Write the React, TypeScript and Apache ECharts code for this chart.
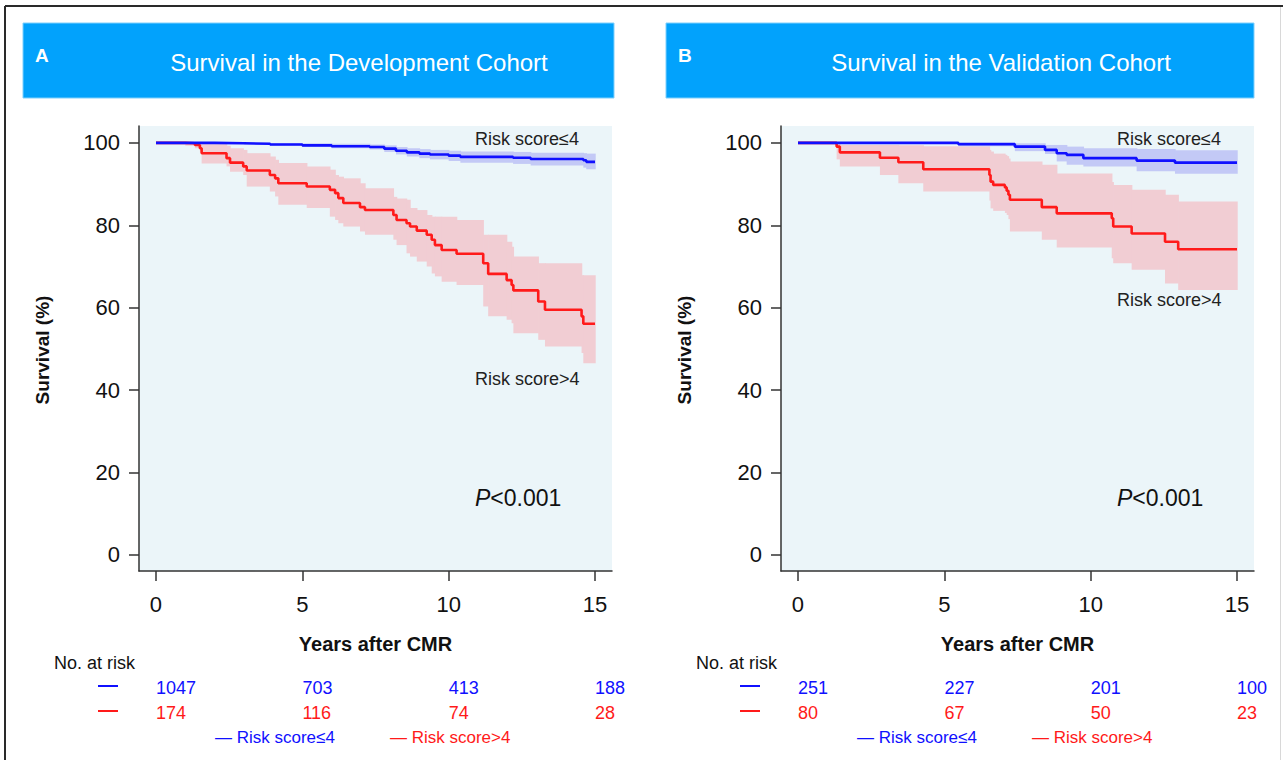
import React, { useEffect, useRef } from "react";
import * as echarts from "echarts";

// ---------- Data ----------
const yearTicks = [0, 5, 10, 15];
const survivalTicks = [0, 20, 40, 60, 80, 100];

// Development cohort, risk score <= 4
const devLowTime = [0, 2.0, 3.0, 3.9, 5.0, 6.0, 7.3, 7.8, 8.2, 8.57, 9.0, 9.36, 10.0, 10.4, 12.2, 12.8, 14.6, 14.7, 15];
const devLowSurv = [100, 99.9, 99.8, 99.6, 99.4, 99.2, 99.0, 98.6, 98.1, 97.7, 97.4, 97.2, 96.9, 96.6, 96.4, 96.1, 95.8, 95.4, 95.4];
const devLowLo = [100, 99.8, 99.6, 99.3, 99.0, 98.7, 98.4, 97.8, 97.2, 96.7, 96.3, 96.0, 95.6, 95.2, 94.9, 94.5, 94.0, 93.6, 93.6];
const devLowHi = [100, 100, 100, 100, 99.9, 99.8, 99.6, 99.4, 99.0, 98.7, 98.5, 98.3, 98.1, 97.9, 97.8, 97.6, 97.5, 97.4, 97.4];

// Development cohort, risk score > 4
const devHighTime = [0, 1.0, 1.33, 1.5, 1.56, 2.41, 2.53, 2.98, 3.1, 3.89, 4.07, 4.18, 5.15, 5.94, 6.12, 6.23, 6.4, 6.97, 7.14, 8.11, 8.22, 8.56, 8.68, 8.91, 9.25, 9.42, 9.53, 9.76, 10.27, 11.18, 11.35, 11.98, 12.15, 12.21, 13.06, 13.29, 14.54, 14.6, 15.0];
const devHighSurv = [100, 99.9, 99.5, 98.7, 97.5, 96.3, 95.2, 94.3, 93.3, 92.2, 91.4, 90.2, 89.4, 88.6, 87.8, 86.6, 85.4, 84.4, 83.7, 82.5, 81.3, 80.5, 79.7, 78.7, 77.7, 76.5, 75.2, 74.0, 73.1, 70.8, 68.2, 66.7, 65.5, 64.2, 61.5, 59.5, 57.9, 56.1, 56.1];
const devHighLo = [100, 99.3, 98.7, 97.9, 95.0, 94.3, 93.0, 92.2, 89.4, 88.2, 87.0, 85.0, 84.2, 82.1, 81.3, 80.5, 79.7, 78.5, 77.7, 76.5, 75.2, 73.2, 72.4, 71.2, 70.0, 68.3, 67.6, 66.3, 65.5, 60.3, 57.9, 57.1, 56.2, 53.8, 52.2, 50.6, 49.0, 46.5, 46.5];
const devHighHi = [100, 100, 100, 100, 99.9, 99.3, 98.7, 98.3, 97.5, 96.7, 95.9, 95.1, 94.3, 93.5, 92.2, 91.8, 91.4, 90.2, 89.0, 86.9, 86.5, 86.2, 84.2, 83.7, 82.5, 82.1, 82.1, 82.1, 81.3, 77.7, 77.7, 76.0, 74.8, 72.4, 70.8, 70.8, 67.9, 67.9, 67.9];

// Validation cohort, risk score <= 4
const valLowTime = [0, 5.48, 7.41, 8.44, 8.84, 9.18, 9.75, 11.57, 12.88, 15];
const valLowSurv = [100, 99.7, 99.1, 98.3, 97.5, 97.1, 96.3, 95.7, 95.2, 95.2];
const valLowLo = [100, 99.2, 98.0, 97.3, 95.5, 94.7, 94.3, 93.1, 92.5, 92.5];
const valLowHi = [100, 100, 99.9, 99.5, 99.5, 99.1, 98.7, 98.5, 98.2, 98.2];

// Validation cohort, risk score > 4
const valHighTime = [0, 1.32, 1.43, 2.8, 3.43, 4.28, 6.54, 6.58, 6.67, 7.07, 7.13, 7.19, 7.24, 8.33, 8.84, 10.72, 10.77, 11.4, 12.54, 12.99, 15];
const valHighSurv = [100, 99.1, 97.7, 96.4, 95.3, 93.6, 92.2, 90.6, 89.8, 89.2, 88.4, 87.4, 86.2, 84.4, 82.9, 81.7, 79.7, 78.0, 76.0, 74.2, 74.2];
const valHighLo = [100, 96.0, 94.3, 92.2, 90.2, 88.2, 86.0, 84.1, 83.5, 83.0, 82.5, 81.5, 78.5, 76.5, 74.6, 72.0, 70.8, 69.2, 65.9, 64.3, 64.3];
const valHighHi = [100, 100, 99.5, 99.5, 99.4, 99.2, 98.3, 97.9, 97.4, 97.1, 96.8, 96.2, 95.5, 94.7, 92.6, 90.5, 89.8, 88.6, 87.4, 85.8, 85.8];

// Numbers at risk
const atRiskYears = [0, 5, 10, 15];
const devAtRiskLow = [1047, 703, 413, 188];
const devAtRiskHigh = [174, 116, 74, 28];
const valAtRiskLow = [251, 227, 201, 100];
const valAtRiskHigh = [80, 67, 50, 23];

// ---------- Styling ----------
const FONT = "'Liberation Sans', Arial, Helvetica, sans-serif";
const BLUE = "#1010ff";
const RED = "#ff1a1a";
const BLUE_BAND = "#c3c9f6";
const RED_BAND = "#f1cdd3";
const PLOT_BG = "#ebf5f9";
const HEADER = "#02a2fc";
const DARK = "#111111";

const X_MIN = -0.58;
const X_MAX = 15.58;
const Y_MIN = -3.9;
const Y_MAX = 104.1;

const panels = [
  { left: 139, letter: "A", title: "Survival in the Development Cohort", headerX: 23, headerW: 591,
    low: [devLowTime, devLowSurv, devLowLo, devLowHi], high: [devHighTime, devHighSurv, devHighLo, devHighHi],
    riskLow: devAtRiskLow, riskHigh: devAtRiskHigh, lowLabelY: 139, highLabelY: 379 },
  { left: 781, letter: "B", title: "Survival in the Validation Cohort", headerX: 666, headerW: 588,
    low: [valLowTime, valLowSurv, valLowLo, valLowHi], high: [valHighTime, valHighSurv, valHighLo, valHighHi],
    riskLow: valAtRiskLow, riskHigh: valAtRiskHigh, lowLabelY: 139, highLabelY: 300 },
];

const PLOT_W = 473;
const PLOT_TOP = 126;
const PLOT_H = 445;

function stepData(t: number[], s: number[]) {
  return t.map((x, i) => [x, s[i]]);
}
function bandData(t: number[], lo: number[], hi: number[]) {
  return t.slice(0, -1).map((x, i) => [x, t[i + 1], lo[i], hi[i]]);
}
function bandSeries(idx: number, data: number[][], color: string) {
  return {
    type: "custom",
    xAxisIndex: idx,
    yAxisIndex: idx,
    data,
    encode: { x: [0, 1], y: [2, 3] },
    silent: true,
    renderItem: (params: any, api: any) => {
      const p0 = api.coord([api.value(0), api.value(3)]);
      const p1 = api.coord([api.value(1), api.value(2)]);
      return {
        type: "rect",
        shape: { x: p0[0], y: p0[1], width: p1[0] - p0[0] + 0.7, height: p1[1] - p0[1] },
        style: { fill: color },
      };
    },
  };
}

function buildOption() {
  const grid: any[] = [];
  const xAxis: any[] = [];
  const yAxis: any[] = [];
  const series: any[] = [];
  const graphic: any[] = [];

  // outer border
  graphic.push({ type: "line", shape: { x1: 5, y1: 6, x2: 1283, y2: 6 }, style: { stroke: "#2a2a2a", lineWidth: 2 } });
  graphic.push({ type: "line", shape: { x1: 5, y1: 6, x2: 5, y2: 760 }, style: { stroke: "#2a2a2a", lineWidth: 2 } });
  graphic.push({ type: "line", shape: { x1: 1280.5, y1: 7, x2: 1280.5, y2: 760 }, style: { stroke: "#d8d8d8", lineWidth: 1 } });

  panels.forEach((p, i) => {
    const pi = 2 * i; // plot grid / axis index
    const ti = 2 * i + 1; // risk table grid / axis index

    // plot grid
    grid.push({ left: p.left, top: PLOT_TOP, width: PLOT_W, height: PLOT_H, show: true, backgroundColor: PLOT_BG, borderWidth: 0, outerBoundsMode: "none" });
    xAxis.push({
      gridIndex: pi, type: "value", min: X_MIN, max: X_MAX,
      splitLine: { show: false },
      axisLine: { show: true, onZero: false, lineStyle: { color: "#333", width: 1.5 } },
      axisTick: { show: true, customValues: yearTicks, length: 10, lineStyle: { color: "#333", width: 1.5 } },
      axisLabel: { customValues: yearTicks, fontSize: 22, margin: 22, color: DARK, fontFamily: FONT },
    });
    yAxis.push({
      gridIndex: pi, type: "value", min: Y_MIN, max: Y_MAX,
      splitLine: { show: false },
      axisLine: { show: true, onZero: false, lineStyle: { color: "#333", width: 1.5 } },
      axisTick: { show: true, customValues: survivalTicks, length: 10, lineStyle: { color: "#333", width: 1.5 } },
      axisLabel: { customValues: survivalTicks, fontSize: 22, margin: 19, color: DARK, fontFamily: FONT },
    });

    // risk table grid
    grid.push({ left: p.left, top: 675, width: PLOT_W, height: 50, show: false, outerBoundsMode: "none" });
    xAxis.push({ gridIndex: ti, type: "value", min: X_MIN, max: X_MAX, show: false });
    yAxis.push({ gridIndex: ti, type: "value", min: 0, max: 2, inverse: true, show: false });

    series.push(bandSeries(pi, bandData(p.high[0], p.high[2], p.high[3]), RED_BAND));
    series.push(bandSeries(pi, bandData(p.low[0], p.low[2], p.low[3]), BLUE_BAND));
    series.push({ type: "line", xAxisIndex: pi, yAxisIndex: pi, step: "end", showSymbol: false, symbol: "none",
      data: stepData(p.high[0], p.high[1]), lineStyle: { color: RED, width: 2.6 }, silent: true });
    series.push({ type: "line", xAxisIndex: pi, yAxisIndex: pi, step: "end", showSymbol: false, symbol: "none",
      data: stepData(p.low[0], p.low[1]), lineStyle: { color: BLUE, width: 2.6 }, silent: true });

    const mk = (vals: number[], row: number, color: string) => ({
      type: "scatter", xAxisIndex: ti, yAxisIndex: ti, symbolSize: 0.1, silent: true,
      itemStyle: { color, opacity: 1 },
      data: atRiskYears.map((y, k) => [y, row, vals[k]]),
      label: { show: true, position: "right", distance: 0, opacity: 1, formatter: (q: any) => String(q.value[2]),
        color, fontSize: 18, fontFamily: FONT },
    });
    series.push(mk(p.riskLow, 0.5, BLUE));
    series.push(mk(p.riskHigh, 1.5, RED));

    // header
    graphic.push({ type: "rect", shape: { x: p.headerX, y: 23, width: p.headerW, height: 75 }, style: { fill: HEADER, stroke: "#7fd0fd", lineWidth: 1 } });
    graphic.push({ type: "text", x: p.headerX + 12, y: 55, style: { text: p.letter, fill: "#fff", font: `bold 19px ${FONT}`, verticalAlign: "middle" } });
    const cx = p.left + 220;
    graphic.push({ type: "text", x: cx, y: 62, style: { text: p.title, fill: "#fff", font: `24px ${FONT}`, align: "center", verticalAlign: "middle" } });

    // axis titles
    graphic.push({ type: "text", x: p.left - 97, y: 350, rotation: Math.PI / 2,
      style: { text: "Survival (%)", fill: DARK, font: `bold 19px ${FONT}`, align: "center", verticalAlign: "middle" } });
    graphic.push({ type: "text", x: p.left + PLOT_W / 2, y: 644,
      style: { text: "Years after CMR", fill: DARK, font: `bold 20px ${FONT}`, align: "center", verticalAlign: "middle" } });

    // curve annotations
    const ax = p.left + 336;
    graphic.push({ type: "text", x: ax, y: p.lowLabelY, style: { text: "Risk score≤4", fill: "#222", font: `18px ${FONT}`, verticalAlign: "middle" } });
    graphic.push({ type: "text", x: ax, y: p.highLabelY, style: { text: "Risk score>4", fill: "#222", font: `18px ${FONT}`, verticalAlign: "middle" } });
    graphic.push({ type: "text", x: ax, y: 498, style: {
      text: "{i|P}<0.001", fill: "#111", font: `23px ${FONT}`, verticalAlign: "middle",
      rich: { i: { fontStyle: "italic", fontSize: 23, fontFamily: FONT, fill: "#111" } } } });

    // risk table labels
    graphic.push({ type: "text", x: p.left - 85, y: 663, style: { text: "No. at risk", fill: DARK, font: `18px ${FONT}`, verticalAlign: "middle" } });
    graphic.push({ type: "line", shape: { x1: p.left - 41, y1: 686, x2: p.left - 21, y2: 686 }, style: { stroke: BLUE, lineWidth: 2 } });
    graphic.push({ type: "line", shape: { x1: p.left - 41, y1: 711, x2: p.left - 21, y2: 711 }, style: { stroke: RED, lineWidth: 2 } });
    graphic.push({ type: "text", x: p.left + 76, y: 737, style: { text: "— Risk score≤4", fill: BLUE, font: `17px ${FONT}`, verticalAlign: "middle" } });
    graphic.push({ type: "text", x: p.left + 251, y: 737, style: { text: "— Risk score>4", fill: RED, font: `17px ${FONT}`, verticalAlign: "middle" } });
  });

  return { animation: false, backgroundColor: "#fff", grid, xAxis, yAxis, series, graphic };
}

export default function App() {
  const ref = useRef<HTMLDivElement>(null);
  useEffect(() => {
    document.body.style.margin = "0";
    document.body.style.overflow = "hidden";
    const chart = echarts.init(ref.current as HTMLDivElement, undefined, { renderer: "svg" });
    chart.setOption(buildOption() as any);
    return () => chart.dispose();
  }, []);
  return <div ref={ref} style={{ width: 1283, height: 760 }} />;
}
